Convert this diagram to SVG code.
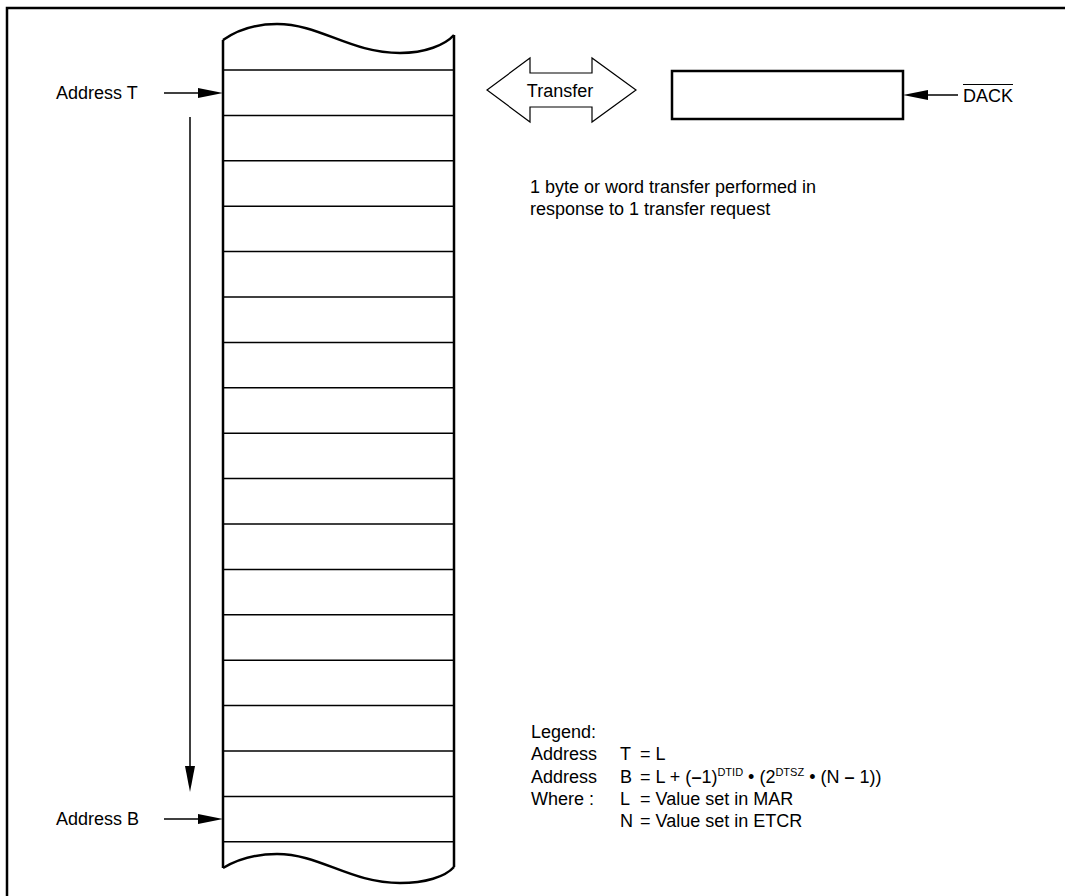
<svg xmlns="http://www.w3.org/2000/svg" width="1065" height="896" viewBox="0 0 1065 896">
<style>
text{font-family:"Liberation Sans",Arial,sans-serif;font-size:18px;fill:#000}
.thick{fill:none;stroke:#000;stroke-width:2.5}
.row{stroke:#000;stroke-width:1.5}
.ln{stroke:#000;stroke-width:1.5;fill:none}
.sup{font-size:11px}
</style>
<rect width="1065" height="896" fill="#fff"/>
<path class="thick" d="M7,896 V8 H1065" stroke-width="3"/>
<g id="memory">
<path class="thick" d="M223,40 C240,28 258,24 277,24 C320,24 350,53 400,53 C425,53 445,45 454,35"/>
<path class="thick" d="M223,868 C240,858 258,854 277,854 C320,854 350,883 400,883 C425,883 445,877 454,867"/>
<line class="thick" x1="223" y1="40" x2="223" y2="868"/>
<line class="thick" x1="454" y1="35" x2="454" y2="867"/>
<g class="row">
<line x1="223" y1="70" x2="454" y2="70"/>
<line x1="223" y1="115.4" x2="454" y2="115.4"/>
<line x1="223" y1="160.8" x2="454" y2="160.8"/>
<line x1="223" y1="206.2" x2="454" y2="206.2"/>
<line x1="223" y1="251.6" x2="454" y2="251.6"/>
<line x1="223" y1="297" x2="454" y2="297"/>
<line x1="223" y1="342.4" x2="454" y2="342.4"/>
<line x1="223" y1="387.8" x2="454" y2="387.8"/>
<line x1="223" y1="433.2" x2="454" y2="433.2"/>
<line x1="223" y1="478.6" x2="454" y2="478.6"/>
<line x1="223" y1="524" x2="454" y2="524"/>
<line x1="223" y1="569.4" x2="454" y2="569.4"/>
<line x1="223" y1="614.8" x2="454" y2="614.8"/>
<line x1="223" y1="660.2" x2="454" y2="660.2"/>
<line x1="223" y1="705.6" x2="454" y2="705.6"/>
<line x1="223" y1="751" x2="454" y2="751"/>
<line x1="223" y1="796.4" x2="454" y2="796.4"/>
<line x1="223" y1="841.8" x2="454" y2="841.8"/>
</g>
</g>
<g id="label-address-t"><text x="56" y="99">Address T</text></g>
<g id="label-address-b"><text x="56" y="825">Address B</text></g>
<g id="transfer">
<polygon points="487,90 530,58 530,73 592,73 592,58 636,90 592,122 592,107 530,107 530,122" fill="#fff" stroke="#000" stroke-width="1.2"/>
<text x="560" y="97" text-anchor="middle">Transfer</text>
</g>
<g id="register"><rect class="thick" x="672" y="71" width="231" height="48"/></g>
<g id="label-dack"><text x="963" y="102">DACK</text><line x1="963" y1="84.5" x2="1013" y2="84.5" stroke="#000" stroke-width="1"/></g>
<g id="note">
<text x="530" y="193">1 byte or word transfer performed in</text>
<text x="530" y="215">response to 1 transfer request</text>
</g>
<g id="legend">
<text x="531" y="738">Legend:</text>
<text x="531" y="760">Address</text><text x="620" y="760">T</text><text x="640" y="760">= L</text>
<text x="531" y="783">Address</text><text x="620" y="783">B</text><text x="640" y="783">= L + (<tspan font-weight="bold">–</tspan>1)<tspan class="sup" dy="-7">DTID</tspan><tspan dy="7"> • (2</tspan><tspan class="sup" dy="-7">DTSZ</tspan><tspan dy="7"> • (N <tspan font-weight="bold">–</tspan> 1))</tspan></text>
<text x="531" y="805">Where :</text><text x="620" y="805">L</text><text x="640" y="805">= Value set in MAR</text>
<text x="620" y="827">N</text><text x="640" y="827">= Value set in ETCR</text>
</g>
<g id="connectors">
<line class="ln" x1="164" y1="93" x2="200" y2="93"/>
<polygon points="223,93 198,88 198,98"/>
<line class="ln" x1="164" y1="819" x2="200" y2="819"/>
<polygon points="223,819 198,814 198,824"/>
<line class="ln" x1="190" y1="117" x2="190" y2="770"/>
<polygon points="190,792 185,766 195,766"/>
<line class="ln" x1="958" y1="95" x2="926" y2="95"/>
<polygon points="903,95 928,90 928,100"/>
</g>
</svg>
